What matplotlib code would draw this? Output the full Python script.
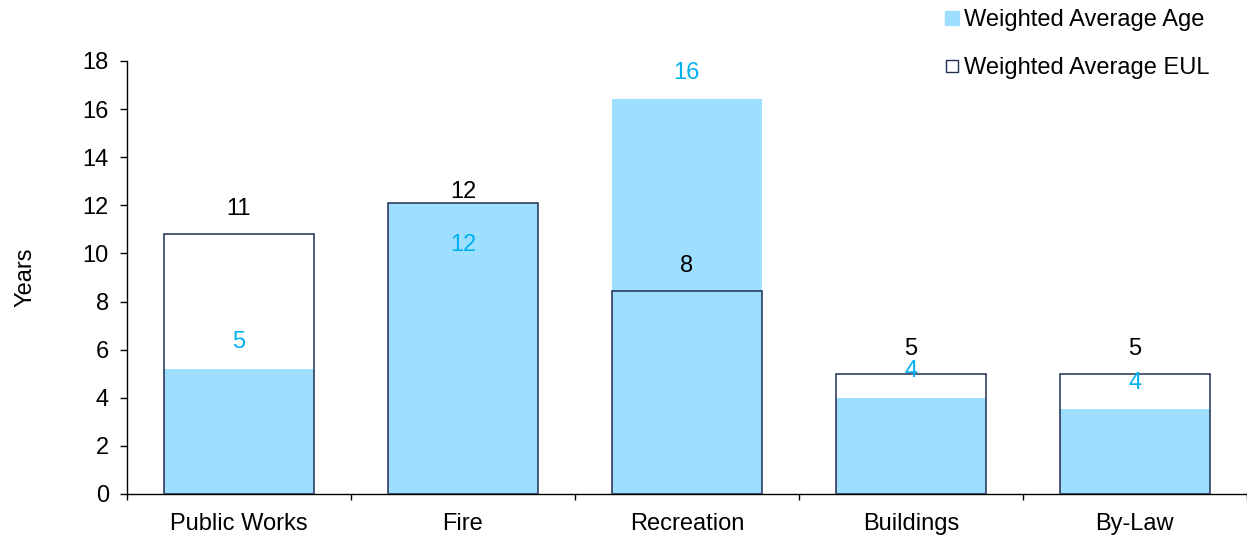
import matplotlib
matplotlib.use("Agg")
import matplotlib.pyplot as plt
from matplotlib.lines import Line2D
import numpy as np

plt.rcParams['font.family'] = ['Liberation Sans', 'DejaVu Sans']

categories = ["Public Works", "Fire", "Recreation", "Buildings", "By-Law"]
avg_age = [5.2, 12.1, 16.4, 4.0, 3.53]
avg_eul = [10.8, 12.1, 8.44, 4.99, 4.99]

# label offsets from the bar top, in points (Fire's age label sits inside its bar)
age_label_offset = [19, 19, 19, 19, 19]
age_label_offset[1] = -30
eul_label_offset = [18, 18, 18, 18, 18]
eul_label_offset[1] = 8

age_color = "#9EDEFF"
age_text = "#00B0F0"
eul_edge = "#1F2F52"
FS = 17

fig = plt.figure(figsize=(12.47, 5.38), dpi=100)
ax = fig.add_axes([0.1018, 0.0818, 0.898, 0.805])

x = np.arange(len(categories))
width = 0.67

ax.bar(x, avg_age, width=width, color=age_color, edgecolor="none", zorder=2)
ax.bar(x, avg_eul, width=width, facecolor="none", edgecolor=eul_edge,
       linewidth=1.1, zorder=3)

for xi, v, off in zip(x, avg_age, age_label_offset):
    ax.annotate(f"{v:.0f}", (xi, v), xytext=(0, off), textcoords="offset points",
                ha="center", va="center", fontsize=FS, color=age_text, zorder=4)
for xi, v, off in zip(x, avg_eul, eul_label_offset):
    ax.annotate(f"{v:.0f}", (xi, v), xytext=(0, off), textcoords="offset points",
                ha="center", va="center", fontsize=FS, color="black", zorder=4)

ax.set_xlim(-0.5, len(categories) - 0.5)
ax.set_ylim(0, 18)
ax.set_yticks(np.arange(0, 19, 2))
ax.set_xticks(x)
ax.set_xticklabels(categories)
ax.set_xticks(np.arange(-0.5, len(categories), 1.0), minor=True)
ax.tick_params(axis="x", which="major", length=0, pad=14, labelsize=FS)
ax.tick_params(axis="x", which="minor", length=4.5, width=1, direction="out")
ax.tick_params(axis="y", length=5, width=1, direction="out", pad=8, labelsize=FS)

for side in ("top", "right"):
    ax.spines[side].set_visible(False)
for side in ("left", "bottom"):
    ax.spines[side].set_linewidth(1)
    ax.spines[side].set_color("black")

ax.set_ylabel("Years", fontsize=FS, labelpad=33)

handles = [
    Line2D([], [], marker="s", linestyle="none", markersize=9.5,
           markerfacecolor=age_color, markeredgecolor=age_color),
    Line2D([], [], marker="s", linestyle="none", markersize=9,
           markerfacecolor="white", markeredgecolor=eul_edge, markeredgewidth=1),
]
fig.legend(handles, ["Weighted Average Age", "Weighted Average EUL"],
           loc="upper left", bbox_to_anchor=(0.740, 1.022), frameon=False,
           fontsize=FS, handlelength=0.7, handletextpad=0.15, labelspacing=1.1)

fig.savefig("out.png", dpi=100)
